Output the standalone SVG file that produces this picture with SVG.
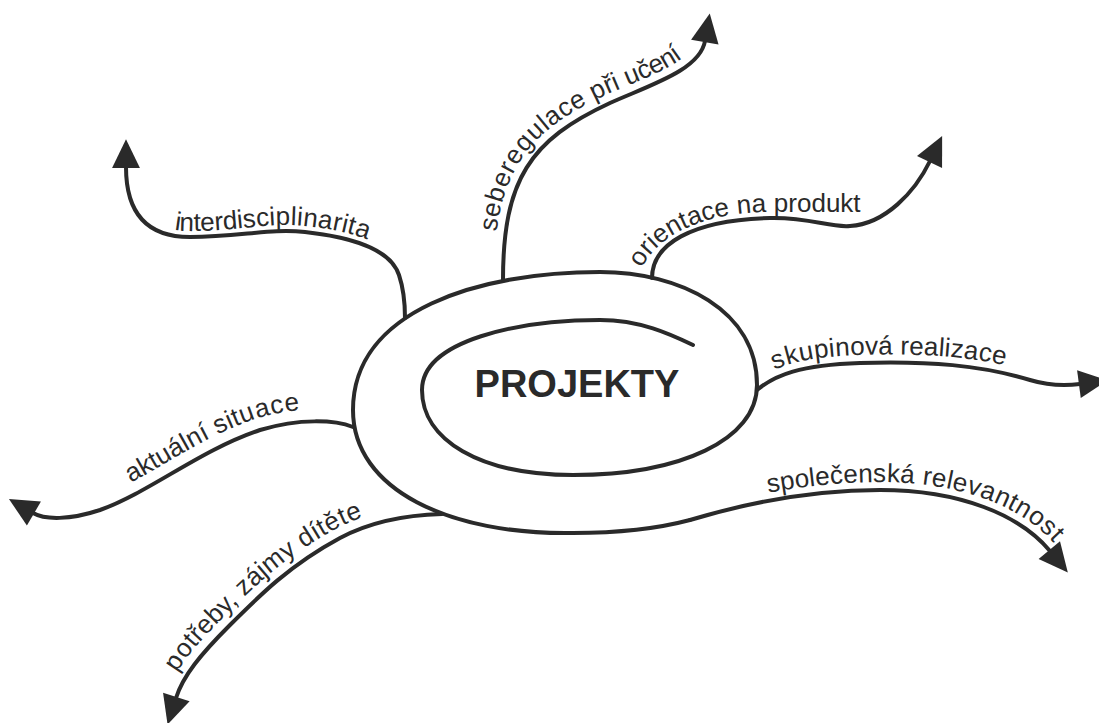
<svg xmlns="http://www.w3.org/2000/svg" width="1099" height="723" viewBox="0 0 1099 723">
<style>
.ln{fill:none;stroke:#2a2a2a;stroke-width:4;stroke-linecap:round;stroke-linejoin:round}
.lbl{font-family:"Liberation Sans",Arial,sans-serif;font-size:26px;fill:#2a2a2a}
.title{font-family:"Liberation Sans",Arial,sans-serif;font-size:38px;font-weight:bold;fill:#2a2a2a}
</style>
<defs>
<marker id="ah" markerUnits="userSpaceOnUse" markerWidth="30" markerHeight="30" viewBox="0 0 28 26" refX="1" refY="13" orient="auto-start-reverse" overflow="visible">
<path d="M0,0 L27,13 L0,26 z" fill="#2a2a2a"/>
</marker>
<path id="t3" d="M642,268 C655,240 695,214 763,212 L880,212"/>
</defs>
<rect width="1099" height="723" fill="#ffffff"/>
<g id="projekty">
<path class="ln" d="M693,345 C670,334 640,320 600,320 C520,320 422,340 422,390 C422,440 480,475 573,475 C680,475 757,440 757,385 C757,310 680,272 600,272 C480,272 353,310 353,410 C353,490 450,535 573,533 C620,533 660,528 690,520"/>
<text class="title" x="577" y="397" text-anchor="middle">PROJEKTY</text>
</g>
<g id="connectors">
<g id="interdisciplinarita">
<path id="p1" class="ln" marker-start="url(#ah)" d="M126,167 C126,205 140,237 190,237 C240,237 270,228 305,232 C350,237 390,248 399,275 C404,290 405,303 405,318"/>
<text class="lbl"><textPath href="#p1" startOffset="92"><tspan dy="-6">interdisciplinarita</tspan></textPath></text>
</g>
<g id="seberegulace">
<path id="p2" class="ln" marker-end="url(#ah)" d="M503,280 C503,180 530,140 610,103 C650,85 700,70 705,41"/>
<text class="lbl"><textPath href="#p2" startOffset="47"><tspan dy="-9">seberegulace při učení</tspan></textPath></text>
</g>
<g id="orientace">
<path id="p3" class="ln" marker-end="url(#ah)" d="M652,278 C652,245 690,220 770,218 C810,217 830,228 850,226 C885,224 915,192 930,161"/>
<text class="lbl"><textPath href="#t3" startOffset="0">orientace na produkt</textPath></text>
</g>
<g id="skupinova">
<path id="p4" class="ln" marker-end="url(#ah)" d="M757,390 C775,375 800,365 860,363 C930,361 980,365 1030,380 C1050,386 1065,386 1080,384"/>
<text class="lbl"><textPath href="#p4" startOffset="24"><tspan dy="-8">skupinová realizace</tspan></textPath></text>
</g>
<g id="aktualni">
<path id="p5" class="ln" marker-start="url(#ah)" d="M33,513 C45,520 70,520 100,510 C150,492 200,450 260,430 C300,418 335,420 353,427"/>
<text class="lbl"><textPath href="#p5" startOffset="109"><tspan dy="-12">aktuální situace</tspan></textPath></text>
</g>
<g id="potreby">
<path id="p6" class="ln" marker-start="url(#ah)" d="M176,698 C183,676 200,655 230,625 C260,595 290,565 340,538 C370,522 405,515 442,514"/>
<text class="lbl"><textPath href="#p6" startOffset="22"><tspan dy="-10">potřeby, zájmy dítěte</tspan></textPath></text>
</g>
<g id="spolecenska">
<path id="p7" class="ln" marker-end="url(#ah)" d="M690,520 C740,505 810,490 880,490 C960,490 1020,515 1050,551"/>
<text class="lbl"><textPath href="#p7" startOffset="82"><tspan dy="-8">společenská relevantnost</tspan></textPath></text>
</g>
</g>
</svg>
